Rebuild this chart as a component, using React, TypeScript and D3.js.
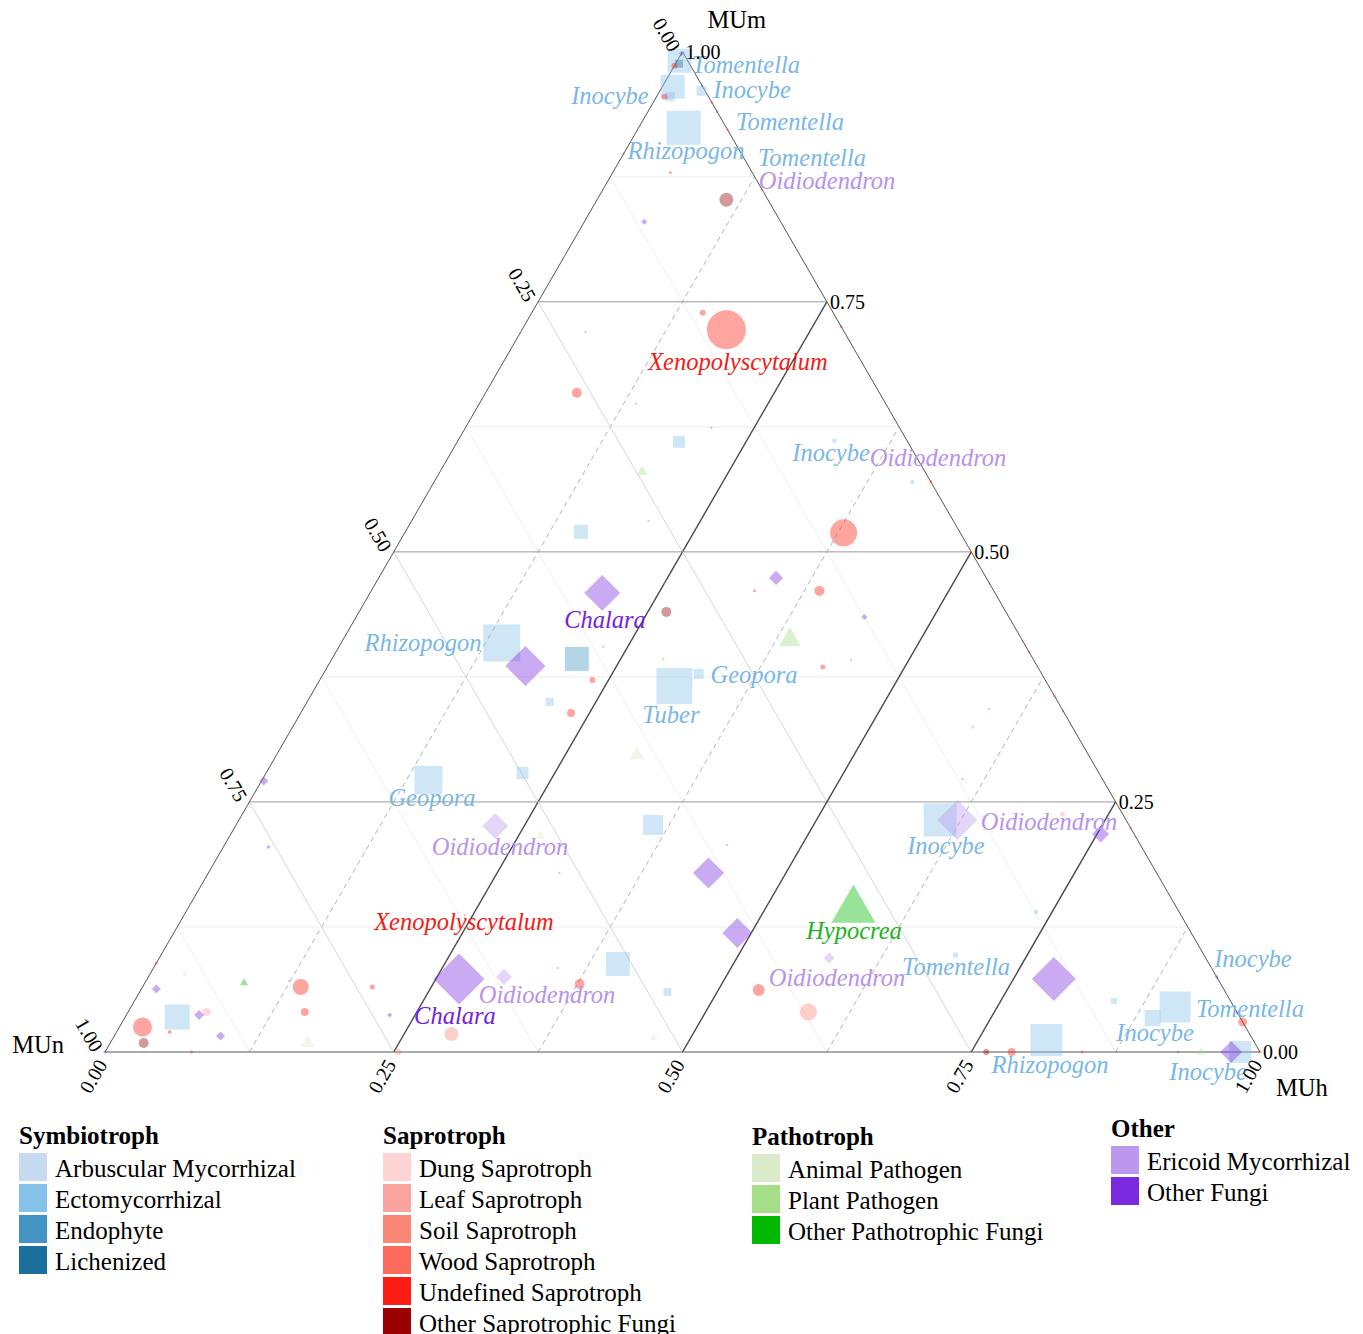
import React from "react";
import * as d3 from "d3";

const W = 1363;
const H = 1334;
const FONT = "'Liberation Serif', 'Times New Roman', serif";

// ---- guilds & colours ----
const symbiotrophGuilds = ["Arbuscular Mycorrhizal", "Ectomycorrhizal", "Endophyte", "Lichenized"];
const symbiotrophColors = ["#c6dbef", "#85c1e9", "#4393c3", "#1b6f9c"];
const saprotrophGuilds = ["Dung Saprotroph", "Leaf Saprotroph", "Soil Saprotroph", "Wood Saprotroph", "Undefined Saprotroph", "Other Saprotrophic Fungi"];
const saprotrophColors = ["#fdd3d3", "#fba39e", "#fb8877", "#fb6a5a", "#fd1d12", "#990000"];
const pathotrophGuilds = ["Animal Pathogen", "Plant Pathogen", "Other Pathotrophic Fungi"];
const pathotrophColors = ["#dbeacb", "#a6dd88", "#00b800"];
const otherGuilds = ["Ericoid Mycorrhizal", "Other Fungi"];
const otherColors = ["#bb98ee", "#7b2ae0"];

const ticks = [0, 0.25, 0.5, 0.75, 1];
const tickLabels = ["0.00", "0.25", "0.50", "0.75", "1.00"];
const minorTicks = [0.125, 0.375, 0.625, 0.875];

// points: [guildIndex, MUm, MUn, MUh, relative abundance]
type Pt = [number, number, number, number, number];

const symbiotrophPoints: Pt[] = [
  [1, 0.991, 0.007, 0.002, 9.22],
  [3, 0.988, 0.009, 0.003, 1.02],
  [1, 0.965, 0.026, 0.009, 9.22],
  [1, 0.955, 0.033, 0.012, 1.3],
  [1, 0.961, 0.003, 0.036, 1.6],
  [1, 0.924, 0.037, 0.039, 18.5],
  [1, 0.61, 0.198, 0.192, 2.3],
  [1, 0.611, 0.063, 0.326, 0.26],
  [1, 0.57, 0.016, 0.414, 0.26],
  [1, 0.52, 0.328, 0.152, 3.14],
  [1, 0.409, 0.452, 0.139, 21.9],
  [2, 0.393, 0.395, 0.212, 9.22],
  [1, 0.35, 0.44, 0.21, 1.02],
  [1, 0.366, 0.324, 0.31, 20.7],
  [1, 0.378, 0.297, 0.325, 1.6],
  [1, 0.272, 0.584, 0.144, 12.54],
  [1, 0.279, 0.499, 0.222, 2.3],
  [1, 0.227, 0.412, 0.361, 6.4],
  [1, 0.088, 0.512, 0.4, 9.22],
  [1, 0.06, 0.483, 0.457, 1.02],
  [1, 0.232, 0.161, 0.607, 17.4],
  [1, 0.097, 0.215, 0.688, 0.4],
  [1, 0.325, 0.086, 0.589, 0.14],
  [1, 0.14, 0.124, 0.736, 0.26],
  [1, 0.051, 0.101, 0.848, 0.58],
  [1, 0.045, 0.051, 0.904, 15.4],
  [1, 0.034, 0.076, 0.89, 4.1],
  [1, 0.012, 0.179, 0.809, 16.4],
  [1, 0.0, 0.017, 0.983, 7.74],
  [1, 0.035, 0.92, 0.045, 10],
];

const saprotrophPoints: Pt[] = [
  [4, 0.986, 0.014, 0.0, 0.58],
  [4, 0.955, 0.038, 0.007, 0.58],
  [4, 0.949, 0.0, 0.051, 0.14],
  [3, 0.922, 0.0, 0.078, 0.14],
  [4, 0.879, 0.071, 0.05, 0.14],
  [5, 0.852, 0.036, 0.112, 3.14],
  [4, 0.739, 0.113, 0.148, 0.58],
  [4, 0.722, 0.101, 0.177, 24.3],
  [4, 0.72, 0.224, 0.056, 0.06],
  [4, 0.659, 0.262, 0.079, 1.6],
  [4, 0.725, 0.0, 0.275, 0.14],
  [4, 0.648, 0.216, 0.136, 0.06],
  [4, 0.624, 0.163, 0.213, 0.06],
  [4, 0.57, 0.0, 0.43, 0.14],
  [4, 0.519, 0.101, 0.38, 11.66],
  [4, 0.461, 0.207, 0.332, 0.14],
  [4, 0.461, 0.151, 0.388, 1.6],
  [4, 0.385, 0.186, 0.429, 0.4],
  [4, 0.392, 0.158, 0.45, 0.06],
  [4, 0.343, 0.063, 0.594, 0.06],
  [4, 0.4, 0.0, 0.6, 0.1],
  [4, 0.356, 0.0, 0.644, 0.1],
  [4, 0.341, 0.0, 0.659, 0.1],
  [4, 0.224, 0.0, 0.776, 0.1],
  [4, 0.273, 0.121, 0.606, 0.06],
  [5, 0.44, 0.294, 0.266, 1.6],
  [4, 0.405, 0.366, 0.229, 0.06],
  [4, 0.393, 0.32, 0.287, 0.06],
  [4, 0.372, 0.392, 0.236, 0.58],
  [4, 0.339, 0.427, 0.234, 1.02],
  [4, 0.531, 0.264, 0.205, 0.06],
  [4, 0.179, 0.517, 0.304, 0.06],
  [4, 0.137, 0.62, 0.243, 0.06],
  [4, 0.065, 0.798, 0.137, 4.1],
  [4, 0.065, 0.736, 0.199, 0.4],
  [4, 0.04, 0.807, 0.153, 1.02],
  [2, 0.018, 0.691, 0.291, 3.14],
  [4, 0.068, 0.555, 0.377, 1.6],
  [4, 0.084, 0.566, 0.35, 0.06],
  [4, 0.207, 0.358, 0.435, 0.06],
  [4, 0.062, 0.403, 0.535, 2.3],
  [2, 0.04, 0.371, 0.589, 4.62],
  [5, 0.0, 0.237, 0.763, 0.58],
  [4, 0.0, 0.215, 0.785, 1.02],
  [4, 0.0, 0.154, 0.846, 0.14],
  [4, 0.03, 0.0, 0.97, 1.3],
  [4, 0.0, 0.0, 1.0, 0.14],
  [1, 0.238, 0.052, 0.71, 0.4],
  [4, 0.089, 0.911, 0.0, 0.14],
  [1, 0.04, 0.892, 0.068, 1.02],
  [4, 0.025, 0.955, 0.02, 5.78],
  [5, 0.009, 0.962, 0.029, 1.6],
  [4, 0.02, 0.934, 0.046, 0.26],
  [4, 0.0, 0.925, 0.075, 0.14],
  [4, 0.071, 0.805, 0.124, 0.06],
  [2, 0.0, 0.746, 0.254, 0.58],
  [4, 0.417, 0.583, 0.0, 0.06],
];

const pathotrophPoints: Pt[] = [
  [1, 0.995, 0.001, 0.004, 0.26],
  [1, 0.58, 0.245, 0.175, 1.6],
  [1, 0.412, 0.201, 0.387, 7.74],
  [0, 0.297, 0.391, 0.312, 4.1],
  [0, 0.216, 0.515, 0.269, 1.6],
  [2, 0.142, 0.281, 0.577, 31],
  [2, 0.069, 0.845, 0.086, 1.02],
  [0, 0.078, 0.892, 0.03, 0.58],
  [0, 0.009, 0.82, 0.171, 3.14],
  [0, 0.014, 0.518, 0.468, 1.02],
  [1, 0.0, 0.051, 0.949, 1.02],
  [0, 0.469, 0.279, 0.252, 0.58],
  [1, 0.551, 0.078, 0.371, 0.14],
];

const otherPoints: Pt[] = [
  [1, 0.998, 0.002, 0.0, 0.4],
  [0, 0.998, 0.0, 0.002, 0.26],
  [1, 0.966, 0.0, 0.034, 0.14],
  [1, 0.94, 0.0, 0.06, 0.14],
  [0, 0.896, 0.0, 0.104, 0.4],
  [1, 0.898, 0.102, 0.0, 0.14],
  [1, 0.83, 0.118, 0.052, 0.58],
  [1, 0.474, 0.182, 0.344, 3.14],
  [1, 0.435, 0.125, 0.44, 0.58],
  [1, 0.468, 0.0, 0.532, 0.1],
  [1, 0.411, 0.0, 0.589, 0.1],
  [1, 0.459, 0.34, 0.201, 20.7],
  [1, 0.386, 0.443, 0.171, 25.6],
  [1, 0.271, 0.727, 0.002, 1.3],
  [0, 0.226, 0.549, 0.225, 10.8],
  [1, 0.205, 0.756, 0.039, 0.26],
  [1, 0.073, 0.657, 0.27, 41.6],
  [0, 0.075, 0.617, 0.308, 4.1],
  [1, 0.037, 0.735, 0.228, 0.4],
  [1, 0.179, 0.388, 0.433, 15.4],
  [1, 0.119, 0.393, 0.488, 14.4],
  [0, 0.232, 0.146, 0.622, 25.6],
  [0, 0.094, 0.326, 0.58, 1.94],
  [1, 0.218, 0.029, 0.753, 4.62],
  [1, 0.073, 0.142, 0.785, 31],
  [1, 0.075, 0.0, 0.925, 0.26],
  [1, 0.039, 0.0, 0.961, 0.26],
  [1, 0.0, 0.025, 0.975, 7.74],
  [1, 0.0, 0.071, 0.929, 0.14],
  [1, 0.063, 0.924, 0.013, 1.3],
  [1, 0.037, 0.9, 0.063, 1.6],
  [1, 0.016, 0.892, 0.092, 1.3],
  [1, 0.0, 1.0, 0.0, 0.26],
];

// genus labels: [text, colour key, MUm, MUn, MUh] (text centre, baseline)
type Lab = [string, string, number, number, number];
const genusLabels: Lab[] = [
  ["Tomentella", "ecto", 0.979, -0.0445, 0.0655],
  ["Inocybe", "ecto", 0.948, 0.0888, -0.0368],
  ["Inocybe", "ecto", 0.954, -0.0372, 0.0832],
  ["Tomentella", "ecto", 0.922, -0.0541, 0.1321],
  ["Rhizopogon", "ecto", 0.893, 0.0505, 0.0565],
  ["Tomentella", "ecto", 0.886, -0.0551, 0.1691],
  ["Oidiodendron", "ericoid", 0.863, -0.0566, 0.1936],
  ["Xenopolyscytalum", "undef", 0.682, 0.111, 0.207],
  ["Inocybe", "ecto", 0.591, 0.0759, 0.3331],
  ["Oidiodendron", "ericoid", 0.586, -0.0142, 0.4282],
  ["Chalara", "otherFungi", 0.424, 0.3551, 0.2209],
  ["Rhizopogon", "ecto", 0.401, 0.5242, 0.0748],
  ["Geopora", "ecto", 0.369, 0.2536, 0.3774],
  ["Tuber", "ecto", 0.329, 0.3455, 0.3255],
  ["Geopora", "ecto", 0.246, 0.5939, 0.1601],
  ["Oidiodendron", "ericoid", 0.197, 0.5595, 0.2435],
  ["Oidiodendron", "ericoid", 0.222, 0.0717, 0.7063],
  ["Inocybe", "ecto", 0.198, 0.1729, 0.6291],
  ["Xenopolyscytalum", "undef", 0.122, 0.6282, 0.2498],
  ["Hypocrea", "otherPatho", 0.113, 0.295, 0.592],
  ["Tomentella", "ecto", 0.077, 0.2247, 0.6983],
  ["Oidiodendron", "ericoid", 0.066, 0.3332, 0.6008],
  ["Oidiodendron", "ericoid", 0.049, 0.5928, 0.3582],
  ["Chalara", "otherFungi", 0.028, 0.683, 0.289],
  ["Inocybe", "ecto", 0.085, -0.0364, 0.9514],
  ["Tomentella", "ecto", 0.035, -0.0088, 0.9738],
  ["Inocybe", "ecto", 0.011, 0.0854, 0.9036],
  ["Rhizopogon", "ecto", -0.021, 0.1923, 0.8287],
  ["Inocybe", "ecto", -0.028, 0.059, 0.969],
];
const labelColors: Record<string, string> = {
  ecto: "#7ab7e6",
  ericoid: "#b892ec",
  otherFungi: "#7424dc",
  undef: "#f21c14",
  otherPatho: "#1db31d",
};

type Shape = "square" | "circle" | "triangle" | "diamond";

export default function App() {
  const side = 1155;
  const x0 = 105;
  const yBase = 1052;
  const xScale = d3.scaleLinear().domain([0, 1]).range([x0, x0 + side]);
  const yScale = d3.scaleLinear().domain([0, 1]).range([yBase, yBase - (side * Math.sqrt(3)) / 2]);
  const proj = (m: number, n: number, h: number): [number, number] => {
    const s = m + n + h;
    const mm = m / s;
    const hh = h / s;
    return [xScale(hh + mm / 2), yScale(mm)];
  };
  const sizeScale = d3.scaleSqrt().domain([0, 40]).range([0, 50]);

  const markerPath = (shape: Shape, s: number) => {
    if (shape === "square") return d3.symbol(d3.symbolSquare, s * s)()!;
    if (shape === "circle") return d3.symbol(d3.symbolCircle, Math.PI * (s / 2) * (s / 2))()!;
    if (shape === "triangle") return d3.symbol(d3.symbolTriangle, (Math.sqrt(3) / 4) * s * s)()!;
    return d3.symbol(d3.symbolSquare, (s * s) / 2)()!;
  };

  const line = (a: [number, number, number], b: [number, number, number]) => {
    const p = proj(...a);
    const q = proj(...b);
    return { x1: p[0], y1: p[1], x2: q[0], y2: q[1] };
  };

  const grid: JSX.Element[] = [];
  minorTicks.forEach((v, i) => {
    grid.push(<line key={"mm" + i} {...line([v, 1 - v, 0], [v, 0, 1 - v])} stroke="#ececec" strokeWidth={1} />);
    grid.push(<line key={"mn" + i} {...line([1 - v, v, 0], [0, v, 1 - v])} stroke="#efefef" strokeWidth={1} />);
    grid.push(<line key={"mh" + i} {...line([0, 1 - v, v], [1 - v, 0, v])} stroke="#b4b4b4" strokeWidth={1} strokeDasharray="5,4" />);
  });
  ticks.slice(1, 4).forEach((v, i) => {
    grid.push(<line key={"Mn" + i} {...line([1 - v, v, 0], [0, v, 1 - v])} stroke="#d6d6d6" strokeWidth={1} />);
    grid.push(<line key={"Mm" + i} {...line([v, 1 - v, 0], [v, 0, 1 - v])} stroke="#9a9a9a" strokeWidth={1} />);
    grid.push(<line key={"Mh" + i} {...line([0, 1 - v, v], [1 - v, 0, v])} stroke="#4a4a4a" strokeWidth={1.4} />);
  });

  const top = proj(1, 0, 0);
  const left = proj(0, 1, 0);
  const right = proj(0, 0, 1);

  const renderGroup = (pts: Pt[], colors: string[], shape: Shape, key: string) =>
    pts.map((p, i) => {
      const [x, y] = proj(p[1], p[2], p[3]);
      const s = sizeScale(p[4]);
      return (
        <path
          key={key + i}
          d={markerPath(shape, s)}
          transform={`translate(${x},${y})${shape === "diamond" ? " rotate(45)" : ""}`}
          fill={colors[p[0]]}
          fillOpacity={0.4}
        />
      );
    });

  const legendCols = [
    { title: "Symbiotroph", items: symbiotrophGuilds, colors: symbiotrophColors, x: 19, ty: 1144, sy: 1153 },
    { title: "Saprotroph", items: saprotrophGuilds, colors: saprotrophColors, x: 383, ty: 1144, sy: 1153 },
    { title: "Pathotroph", items: pathotrophGuilds, colors: pathotrophColors, x: 752, ty: 1145, sy: 1154 },
    { title: "Other", items: otherGuilds, colors: otherColors, x: 1111, ty: 1137, sy: 1146 },
  ];

  return (
    <svg width={W} height={H} style={{ position: "absolute", left: 0, top: 0, background: "#fff" }} fontFamily={FONT}>
      <rect width={W} height={H} fill="#fff" />
      {grid}
      <polygon
        points={[top, left, right].map((p) => p.join(",")).join(" ")}
        fill="none"
        stroke="#555"
        strokeWidth={1}
      />
      {renderGroup(symbiotrophPoints, symbiotrophColors, "square", "s")}
      {renderGroup(saprotrophPoints, saprotrophColors, "circle", "c")}
      {renderGroup(pathotrophPoints, pathotrophColors, "triangle", "t")}
      {renderGroup(otherPoints, otherColors, "diamond", "d")}

      {genusLabels.map((l, i) => {
        const [x, y] = proj(l[2], l[3], l[4]);
        return (
          <text key={"l" + i} x={x} y={y} textAnchor="middle" fontStyle="italic" fontSize={24.5} fill={labelColors[l[1]]}>
            {l[0]}
          </text>
        );
      })}

      {/* MUm ticks (right edge) */}
      {ticks.map((v, i) => {
        const [x, y] = proj(v, 0, 1 - v);
        return (
          <text key={"tm" + i} x={x + 3} y={y} dominantBaseline="central" fontSize={20} fill="#000">
            {tickLabels[i]}
          </text>
        );
      })}
      {/* MUn ticks (left edge) */}
      {ticks.map((v, i) => {
        const [x, y] = proj(1 - v, v, 0);
        return (
          <text
            key={"tn" + i}
            transform={`translate(${x - 7},${y - 2}) rotate(60)`}
            textAnchor="end"
            dominantBaseline="central"
            fontSize={20}
            fill="#000"
          >
            {tickLabels[i]}
          </text>
        );
      })}
      {/* MUh ticks (bottom edge) */}
      {ticks.map((v, i) => {
        const [x, y] = proj(0, 1 - v, v);
        return (
          <text
            key={"th" + i}
            transform={`translate(${x - 3},${y + 9}) rotate(-60)`}
            textAnchor="end"
            dominantBaseline="central"
            fontSize={20}
            fill="#000"
          >
            {tickLabels[i]}
          </text>
        );
      })}

      <text x={top[0] + 25} y={top[1] - 24} fontSize={24.5} fill="#000">MUm</text>
      <text x={left[0] - 41} y={left[1] + 1} textAnchor="end" fontSize={24.5} fill="#000">MUn</text>
      <text x={right[0] + 16} y={right[1] + 44} fontSize={24.5} fill="#000">MUh</text>

      {legendCols.map((c) => (
        <g key={c.title}>
          <text x={c.x} y={c.ty} fontSize={25} fontWeight="bold" fill="#000">
            {c.title}
          </text>
          {c.items.map((it, j) => (
            <g key={it}>
              <rect x={c.x} y={c.sy + j * 31} width={28} height={28} fill={c.colors[j]} />
              <text x={c.x + 36} y={c.sy + j * 31 + 15} dominantBaseline="central" fontSize={25} fill="#000">
                {it}
              </text>
            </g>
          ))}
        </g>
      ))}
    </svg>
  );
}
